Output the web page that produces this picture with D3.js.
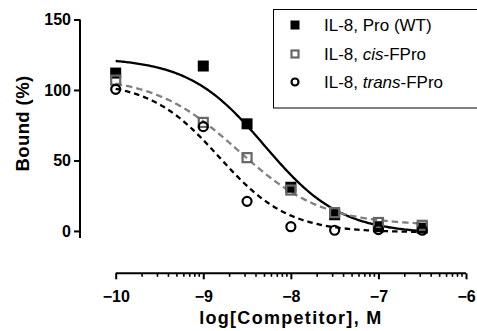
<!DOCTYPE html>
<html><head><meta charset="utf-8">
<script src="https://cdn.jsdelivr.net/npm/d3@7"></script>
<style>html,body{margin:0;padding:0;background:#fff;}svg{display:block;}</style>
</head><body>
<svg id="c" width="477" height="331"></svg>
<script>
// ---- data ----
const logConc = [-10, -9, -8.5, -8, -7.5, -7, -6.5];
const wtValues = [112, 117, 76, 31, 11.5, 3, 2];
const cisValues = [107, 77, 52, 29, 13, 6, 4];
const transValues = [100.5, 74, 21, 3, 0.5, 1, 0.5];
const seriesNames = ["IL-8, Pro (WT)", "IL-8, cis-FPro", "IL-8, trans-FPro"];
// fitted sigmoidal dose-response parameters
const fitTop = [123, 110, 106];
const fitBottom = [-2, 4, -1];
const fitLogIC50 = [-8.3, -8.6, -8.82];
const fitHill = [1.0, 0.9, 1.1];
const fitRange = [-10, -6.5];
const xTicks = [-10, -9, -8, -7, -6];
const yTicks = [0, 50, 100, 150];

const svg = d3.select("#c");
const font = "'Liberation Sans', Arial, Helvetica, sans-serif";
const x = d3.scaleLinear().domain([-10, -6]).range([115.7, 466]);
const y = d3.scaleLinear().domain([-5, 150]).range([238, 19.5]);

// y axis
const yAxis = svg.append("g").attr("transform", "translate(80,0)")
  .call(d3.axisLeft(y).tickValues(yTicks).tickSize(6).tickPadding(3).tickFormat(d3.format("d")));
yAxis.select(".domain").attr("d", `M0,${y(-5)}V${y(150)}`);
// x axis (offset)
const xAxisY = 273.3;
const xg = svg.append("g").attr("transform", `translate(0,${xAxisY})`)
  .call(d3.axisBottom(x).tickValues(xTicks).tickSize(6).tickPadding(11).tickFormat(d3.format("d")));
xg.select(".domain").attr("d", `M${x(-10)},0H${x(-6)}`);
// minor log ticks
const minor = [];
for (let d = -10; d < -6; d++) for (let k = 2; k <= 9; k++) minor.push(d + Math.log10(k));
xg.selectAll(".minor").data(minor).enter().append("line")
  .attr("x1", d => x(d)).attr("x2", d => x(d)).attr("y1", 0).attr("y2", 3.5)
  .attr("stroke", "#000").attr("stroke-width", 1.6);
[yAxis, xg].forEach(g => {
  g.selectAll(".domain, .tick line").attr("stroke", "#000").attr("stroke-width", 2);
  g.selectAll("text").attr("font-family", font).attr("font-weight", "bold")
    .attr("font-size", 16).attr("fill", "#000");
});

// axis titles
svg.append("text").attr("x", x(-8)).attr("y", 324).attr("text-anchor", "middle")
  .attr("font-family", font).attr("font-weight", "bold").attr("font-size", 18)
  .attr("letter-spacing", 1.3).text("log[Competitor], M");
svg.append("text").attr("transform", "translate(29,123.5) rotate(-90)").attr("text-anchor", "middle")
  .attr("font-family", font).attr("font-weight", "bold").attr("font-size", 18.5)
  .attr("letter-spacing", 0.4).text("Bound (%)");

// fitted curves
const lineColors = ["#000", "#808080", "#000"];
const dashes = [null, "6.5,4", "5.5,4"];
const curveX = d3.range(0, 201).map(i => fitRange[0] + (fitRange[1] - fitRange[0]) * i / 200);
const line = d3.line().x(d => x(d[0])).y(d => y(d[1]));
for (let s = 0; s < 3; s++) {
  const pts = curveX.map(v => [v, fitBottom[s] + (fitTop[s] - fitBottom[s]) / (1 + Math.pow(10, (v - fitLogIC50[s]) * fitHill[s]))]);
  svg.append("path").attr("d", line(pts)).attr("fill", "none")
    .attr("stroke", lineColors[s]).attr("stroke-width", 2.3)
    .attr("stroke-dasharray", dashes[s]);
}

// markers
function drawMarker(g, s, cx, cy, size) {
  if (s === 0) {
    g.append("rect").attr("x", cx - size / 2).attr("y", cy - size / 2).attr("width", size).attr("height", size).attr("fill", "#000");
  } else if (s === 1) {
    const a = size - 2;
    g.append("rect").attr("x", cx - a / 2).attr("y", cy - a / 2).attr("width", a).attr("height", a)
      .attr("fill", "none").attr("stroke", "#666").attr("stroke-width", 2.2);
  } else {
    g.append("circle").attr("cx", cx).attr("cy", cy).attr("r", size / 2 - 1)
      .attr("fill", "none").attr("stroke", "#000").attr("stroke-width", 2.2);
  }
}
const allValues = [wtValues, cisValues, transValues];
const mg = svg.append("g");
for (let s = 0; s < 3; s++) {
  logConc.forEach((c, i) => drawMarker(mg, s, x(c), y(allValues[s][i]), 11));
}

// legend
const lg = svg.append("g");
lg.append("rect").attr("x", 273.5).attr("y", 9.5).attr("width", 210).attr("height", 98.5)
  .attr("fill", "#fff").attr("stroke", "#000").attr("stroke-width", 1);
const rowY = [25, 54, 82];
const labelParts = [
  [["IL-8, Pro (WT)", "normal"]],
  [["IL-8, ", "normal"], ["cis", "italic"], ["-FPro", "normal"]],
  [["IL-8, ", "normal"], ["trans", "italic"], ["-FPro", "normal"]]
];
for (let s = 0; s < 3; s++) {
  drawMarker(lg, s, 295, rowY[s], 9);
  const t = lg.append("text").attr("x", 324).attr("y", rowY[s] + 6)
    .attr("font-family", font).attr("font-size", 17).attr("fill", "#000");
  labelParts[s].forEach(p => t.append("tspan").attr("font-style", p[1]).text(p[0]));
}
</script>
</body></html>
